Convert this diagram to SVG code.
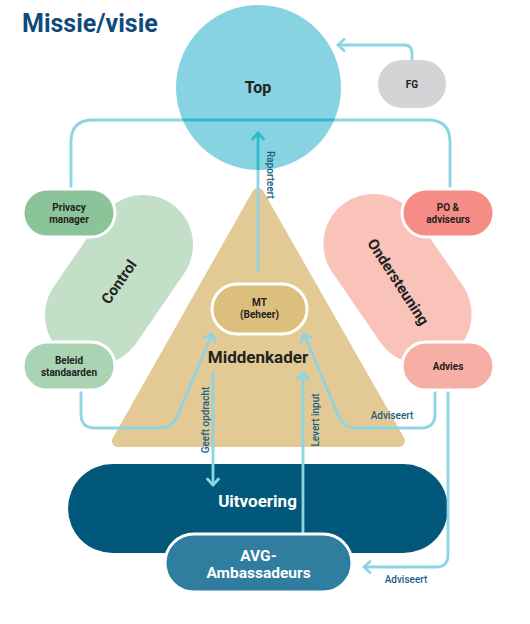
<svg xmlns="http://www.w3.org/2000/svg" width="530" height="624" viewBox="0 0 530 624">
<style>
text{font-family:Roboto,"Noto Sans","DejaVu Sans",sans-serif;font-weight:700;text-anchor:middle;fill:#222}
.pl{font-size:10px}
.big{font-size:16px}
.blob{font-size:15px}
.lbl{font-size:10px;font-weight:500;fill:#1b5f86}
.w{fill:#fff}
.pill{stroke:#fff;stroke-width:3}
.con{fill:none;stroke:#8dd5e4;stroke-width:2.8;stroke-linecap:round;stroke-linejoin:round}
.dk{stroke:#2fbacd}
</style>
<defs>
<marker id="ah" viewBox="-9 -7 11 14" markerWidth="11" markerHeight="14" refX="0" refY="0" orient="auto" markerUnits="userSpaceOnUse">
<path d="M-6,-5.5 L0,0 L-6,5.5" fill="none" stroke="#8dd5e4" stroke-width="2.8" stroke-linecap="round" stroke-linejoin="round"/>
</marker>
<marker id="ahd" viewBox="-9 -7 11 14" markerWidth="11" markerHeight="14" refX="0" refY="0" orient="auto" markerUnits="userSpaceOnUse">
<path d="M-6,-5.5 L0,0 L-6,5.5" fill="none" stroke="#2fbacd" stroke-width="2.8" stroke-linecap="round" stroke-linejoin="round"/>
</marker>
<clipPath id="topclip"><circle cx="258.5" cy="87.5" r="82.5"/></clipPath>
</defs>
<rect width="530" height="624" fill="#fff"/>
<text x="22" y="32" style="font-size:25px;fill:#0e4b7c;text-anchor:start">Missie/visie</text>

<g id="top">
<circle cx="258.5" cy="87.5" r="82.5" fill="#88d3e1"/>
<text class="big" x="258" y="93">Top</text>
</g>
<g id="control">
<rect x="26.5" y="230" width="185" height="100" rx="50" fill="#c3dfc8" transform="rotate(-55.5 119 280)"/>
<text class="blob" x="119" y="287" transform="rotate(-55 119 282)">Control</text>
</g>
<g id="ondersteuning">
<rect x="305" y="229" width="185" height="100" rx="50" fill="#f9c3ba" transform="rotate(55.5 397.5 279)"/>
<text class="blob" x="398" y="287" transform="rotate(57 398 282)">Ondersteuning</text>
</g>
<g id="middenkader">
<polygon points="258,194 118,441 399,441" fill="#e3ca94" stroke="#e3ca94" stroke-width="12" stroke-linejoin="round"/>
<text x="258" y="363" style="font-size:17px">Middenkader</text>
</g>
<g id="uitvoering">
<rect x="68" y="464" width="380" height="89" rx="44.5" fill="#02587a"/>
<text class="w" x="257.5" y="507" style="font-size:17px">Uitvoering</text>
</g>

<g id="connectors">
<path class="con" d="M71,188 V142 Q71,120 93,120 H428 Q450,120 450,142 V188"/>
<path class="con" d="M412,59 V53 Q412,45 404,45 H338" marker-end="url(#ah)"/>
<path class="con" d="M258,270 V133" marker-end="url(#ah)"/>
<g clip-path="url(#topclip)">
<path class="con dk" d="M71,120 H450"/>
<path class="con dk" d="M258,270 V133" marker-end="url(#ahd)"/>
</g>
<path class="con" d="M81,392 V414 Q81,428 95,428 H160 Q172,428 177,417 L212,334" marker-end="url(#ah)"/>
<path class="con" d="M435,392 V414 Q435,428 421,428 H356 Q344,428 339,417 L304,334" marker-end="url(#ah)"/>
<path class="con" d="M448,392 V555 Q448,567 436,567 H364" marker-end="url(#ah)"/>
<path class="con" d="M213,373 V485" marker-end="url(#ah)"/>
<path class="con" d="M303,533 V373" marker-end="url(#ah)"/>
<text class="lbl" x="267" y="175" transform="rotate(90 267 175)">Raporteert</text>
<text class="lbl" x="208.5" y="420" transform="rotate(-90 208.5 420)">Geeft opdracht</text>
<text class="lbl" x="319" y="420" transform="rotate(-90 319 420)">Levert input</text>
<text class="lbl" x="392" y="419">Adviseert</text>
<text class="lbl" x="406" y="583">Adviseert</text>
</g>

<g id="fg">
<rect x="378" y="60" width="68" height="48" rx="24" fill="#d4d4d6"/>
<text class="pl" x="412" y="88">FG</text>
</g>
<g id="privacy-manager">
<rect class="pill" x="23" y="189" width="92" height="48" rx="24" fill="#8cc49a"/>
<text class="pl" x="69" y="211">Privacy</text>
<text class="pl" x="69" y="223">manager</text>
</g>
<g id="beleid-standaarden">
<rect class="pill" x="23" y="342" width="92" height="48" rx="24" fill="#a9d3b3"/>
<text class="pl" x="69" y="364">Beleid</text>
<text class="pl" x="69" y="376">standaarden</text>
</g>
<g id="po-adviseurs">
<rect class="pill" x="402" y="189" width="92" height="48" rx="24" fill="#f58d86"/>
<text class="pl" x="448" y="211">PO &amp;</text>
<text class="pl" x="448" y="223">adviseurs</text>
</g>
<g id="advies">
<rect class="pill" x="402" y="342" width="92" height="48" rx="24" fill="#f7afa5"/>
<text class="pl" x="448" y="370">Advies</text>
</g>
<g id="mt">
<rect class="pill" x="212" y="284" width="95" height="50" rx="25" fill="#dcbe7d"/>
<text class="pl" x="259.5" y="306">MT</text>
<text class="pl" x="259.5" y="318">(Beheer)</text>
</g>
<g id="avg">
<rect class="pill" x="165" y="534" width="187" height="58" rx="29" fill="#2f7d9f"/>
<text class="w" x="258.5" y="561" style="font-size:15.5px">AVG-</text>
<text class="w" x="258.5" y="578" style="font-size:15.5px">Ambassadeurs</text>
</g>
</svg>
